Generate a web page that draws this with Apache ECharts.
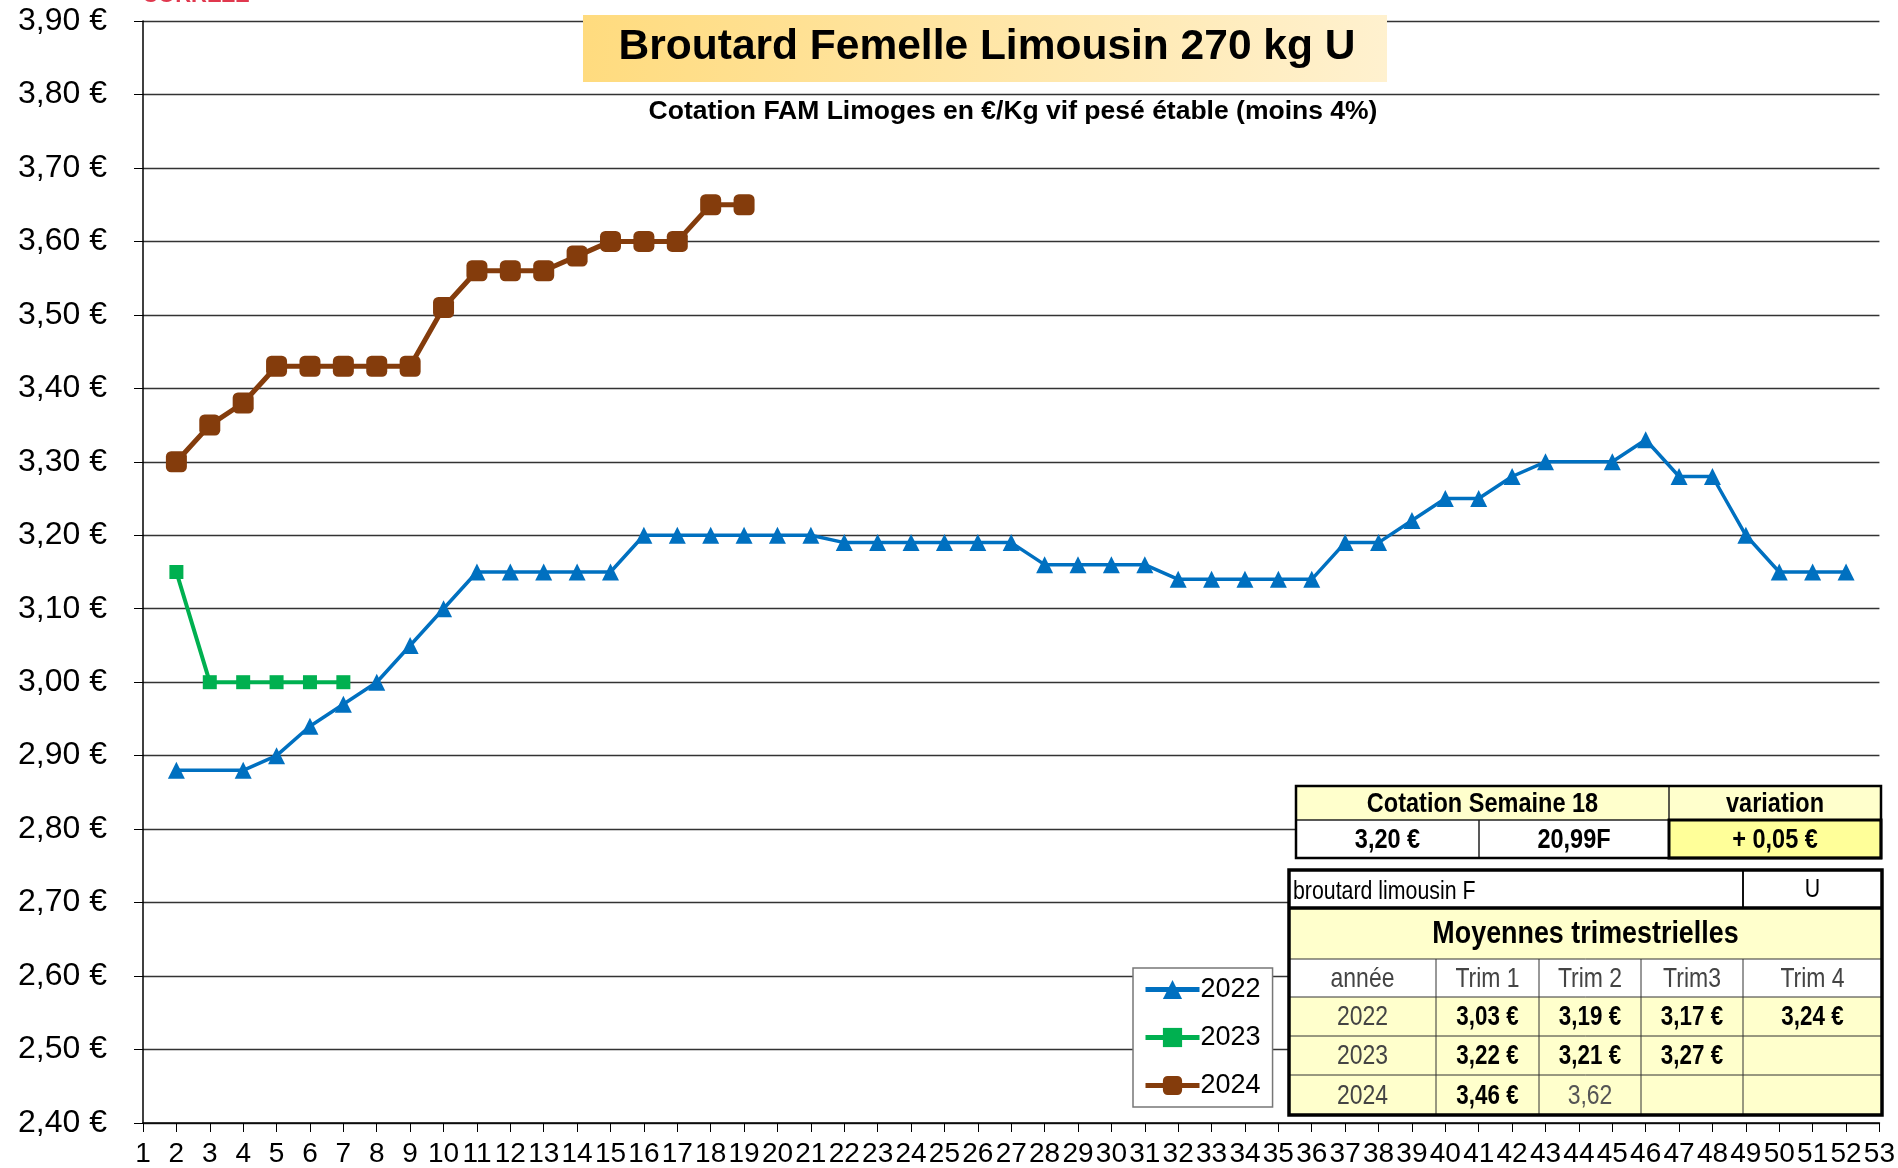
<!DOCTYPE html>
<html>
<head>
<meta charset="utf-8">
<script src="https://cdn.jsdelivr.net/npm/echarts@6/dist/echarts.min.js"></script>
<style>html,body{margin:0;padding:0;background:#fff}#c{width:1898px;height:1168px}</style>
</head>
<body>
<div id="c"></div>
<script>
// ---- data ----
const weeks = ['1','2','3','4','5','6','7','8','9','10','11','12','13','14','15','16','17','18','19','20','21','22','23','24','25','26','27','28','29','30','31','32','33','34','35','36','37','38','39','40','41','42','43','44','45','46','47','48','49','50','51','52','53'];
const s2022 = [null,2.88,null,2.88,2.90,2.94,2.97,3.00,3.05,3.10,3.15,3.15,3.15,3.15,3.15,3.20,3.20,3.20,3.20,3.20,3.20,3.19,3.19,3.19,3.19,3.19,3.19,3.16,3.16,3.16,3.16,3.14,3.14,3.14,3.14,3.14,3.19,3.19,3.22,3.25,3.25,3.28,3.30,null,3.30,3.33,3.28,3.28,3.20,3.15,3.15,3.15,null];
const s2023 = [null,3.15,3.00,3.00,3.00,3.00,3.00];
const s2024 = [null,3.30,3.35,3.38,3.43,3.43,3.43,3.43,3.43,3.51,3.56,3.56,3.56,3.58,3.60,3.60,3.60,3.65,3.65];
const seriesNames = ['2022','2023','2024'];

const titleText = 'Broutard Femelle Limousin 270 kg U';
const subtitleText = 'Cotation FAM Limoges en €/Kg vif pesé étable (moins 4%)';

const cotHeader = ['Cotation Semaine 18','variation'];
const cotValues = ['3,20 €','20,99F','+ 0,05 €'];
const productLabel = 'broutard limousin F';
const gradeLabel = 'U';
const trimTitle = 'Moyennes trimestrielles';
const trimHeaders = ['année','Trim 1','Trim 2','Trim3','Trim 4'];
const trimYears = ['2022','2023','2024'];
const trimValues = [
  ['3,03 €','3,19 €','3,17 €','3,24 €'],
  ['3,22 €','3,21 €','3,27 €',''],
  ['3,46 €','3,62','','']
];

// ---- graphics ----
const SANS = "'Liberation Sans',Arial,sans-serif";
const NX = 0.82; // horizontal condensing for narrow-looking table text
const g = [];
function rect(x,y,w,h,fill,stroke,lw,z){g.push({type:'rect',z:z||10,shape:{x:x,y:y,width:w,height:h},style:{fill:fill,stroke:stroke||null,lineWidth:lw||0}});}
function line(x1,y1,x2,y2,lw,color,z){g.push({type:'line',z:z||12,shape:{x1:x1,y1:y1,x2:x2,y2:y2},style:{stroke:color||'#000',lineWidth:lw}});}
function text(t,x,y,font,opt,sx){g.push({type:'text',z:15,x:x,y:y,scaleX:sx||1,style:Object.assign({text:t,fill:'#000',font:font+' '+SANS,textAlign:'center',textVerticalAlign:'middle'},opt||{})});}

// clipped red label at top (only its lower edge is visible)
text('CORREZE',196,-4,'bold 22px',{fill:'#E0384E'});

// title box
g.push({type:'rect',z:10,shape:{x:583,y:15,width:804,height:67},style:{fill:new echarts.graphic.LinearGradient(0,0,1,1,[{offset:0,color:'#FFDB7E'},{offset:1,color:'#FFF1CF'}])}});
text(titleText,987,47,'bold 42.5px');
text(subtitleText,1013,112,'bold 26.5px');

// table 1
(function(){
  const x0=1296,x1=1479,x2=1669,x3=1881,y0=786,y1=820,y2=858;
  rect(x0,y0,x3-x0,y1-y0,'#FFFFCC');
  rect(x0,y1,x2-x0,y2-y1,'#FFFFFF');
  rect(x2,y1,x3-x2,y2-y1,'#FFFF99');
  line(x0,y1,x3,y1,1.5,'#222');
  line(x1,y1,x1,y2,1.5,'#222');
  line(x2,y0,x2,y2,1.5,'#222');
  g.push({type:'rect',z:12,shape:{x:x2,y:y1,width:x3-x2,height:y2-y1},style:{fill:null,stroke:'#000',lineWidth:3}});
  g.push({type:'rect',z:12,shape:{x:x0,y:y0,width:x3-x0,height:y2-y0},style:{fill:null,stroke:'#000',lineWidth:2.5}});
  text(cotHeader[0],(x0+x2)/2,(y0+y1)/2+1,'bold 28px',{},0.84);
  text(cotHeader[1],(x2+x3)/2,(y0+y1)/2+1,'bold 28px',{},0.84);
  text(cotValues[0],(x0+x1)/2,(y1+y2)/2+1,'bold 28px',{},0.84);
  text(cotValues[1],(x1+x2)/2,(y1+y2)/2+1,'bold 28px',{},0.84);
  text(cotValues[2],(x2+x3)/2,(y1+y2)/2+1,'bold 28px',{},0.84);
})();

// table 2
(function(){
  const xs=[1289,1436,1539,1641,1743,1882];
  const ys=[870,908,959,997,1036,1075,1115];
  const L=xs[0],R=xs[5];
  rect(L,ys[0],R-L,ys[1]-ys[0],'#FFFFFF');
  rect(L,ys[1],R-L,ys[2]-ys[1],'#FFFFCC');
  rect(L,ys[2],R-L,ys[3]-ys[2],'#FFFFFF');
  rect(L,ys[3],R-L,ys[6]-ys[3],'#FFFFCC');
  line(xs[4],ys[0],xs[4],ys[1],2,'#111');
  line(L,ys[1],R,ys[1],3.5,'#000');
  line(L,ys[2],R,ys[2],1,'#333');
  line(L,ys[3],R,ys[3],1,'#333');
  line(L,ys[4],R,ys[4],1,'#333');
  line(L,ys[5],R,ys[5],1,'#333');
  for(let i=1;i<5;i++) line(xs[i],ys[2],xs[i],ys[6],1,'#333');
  g.push({type:'rect',z:13,shape:{x:L,y:ys[0],width:R-L,height:ys[6]-ys[0]},style:{fill:null,stroke:'#000',lineWidth:3.5}});
  text(productLabel,L+4,(ys[0]+ys[1])/2+3,'26px',{textAlign:'left'},NX);
  text(gradeLabel,(xs[4]+R)/2,(ys[0]+ys[1])/2+1,'26px',{},NX);
  text(trimTitle,(L+R)/2,(ys[1]+ys[2])/2+1,'bold 32px',{},0.84);
  for(let i=0;i<5;i++) text(trimHeaders[i],(xs[i]+xs[i+1])/2,(ys[2]+ys[3])/2+1,'28px',{fill:'#444'},NX);
  for(let r=0;r<3;r++){
    const cy=(ys[3+r]+ys[4+r])/2+1;
    text(trimYears[r],(xs[0]+xs[1])/2,cy,'28px',{fill:'#444'},NX);
    for(let c=0;c<4;c++){
      const v=trimValues[r][c];
      if(!v) continue;
      const isEuro=v.indexOf('€')>=0;
      text(v,(xs[c+1]+xs[c+2])/2,cy,isEuro?'bold 28px':'28px',{fill:isEuro?'#000':'#555'},isEuro?0.8:NX);
    }
  }
})();

const chart = echarts.init(document.getElementById('c'),null,{renderer:'canvas'});
chart.setOption({
  animation:false,
  backgroundColor:'#fff',
  grid:{left:143,right:18,top:21,bottom:44,containLabel:false},
  legend:{
    data:seriesNames, orient:'vertical', left:1133, top:968,
    backgroundColor:'#fff', borderColor:'#777', borderWidth:1.5,
    padding:[8,12,8,10], itemWidth:54, itemHeight:24, itemGap:21,
    lineStyle:{width:5},
    textStyle:{fontFamily:SANS,fontSize:27,color:'#000',padding:[0,0,0,-4]},
    z:20
  },
  xAxis:{
    type:'category', data:weeks, boundaryGap:false,
    axisLine:{lineStyle:{color:'#000',width:1.5}},
    axisTick:{show:true,interval:0,length:9,lineStyle:{color:'#000'}},
    axisLabel:{interval:0,margin:17,fontFamily:SANS,fontSize:28,color:'#000'},
    splitLine:{show:false}
  },
  yAxis:{
    type:'value', min:2.4, max:3.9, interval:0.1,
    axisLine:{show:true,lineStyle:{color:'#000',width:1.5}},
    axisTick:{show:true,length:9,lineStyle:{color:'#000'}},
    axisLabel:{margin:36,fontFamily:SANS,fontSize:32,color:'#000',
      formatter:v=>v.toFixed(2).replace('.',',')+' €'},
    splitLine:{show:true,lineStyle:{color:'#333',width:1.3}}
  },
  series:[
    {name:seriesNames[0],type:'line',data:s2022,connectNulls:true,symbol:'triangle',symbolSize:17,
     lineStyle:{color:'#0070C0',width:3.5},itemStyle:{color:'#0070C0'},z:3},
    {name:seriesNames[1],type:'line',data:s2023,connectNulls:true,symbol:'rect',symbolSize:14,
     lineStyle:{color:'#00B050',width:4},itemStyle:{color:'#00B050'},z:4},
    {name:seriesNames[2],type:'line',data:s2024,connectNulls:true,symbol:'roundRect',symbolSize:21,
     lineStyle:{color:'#843C0C',width:5},itemStyle:{color:'#843C0C'},z:5}
  ],
  graphic:g
});
</script>
</body>
</html>
